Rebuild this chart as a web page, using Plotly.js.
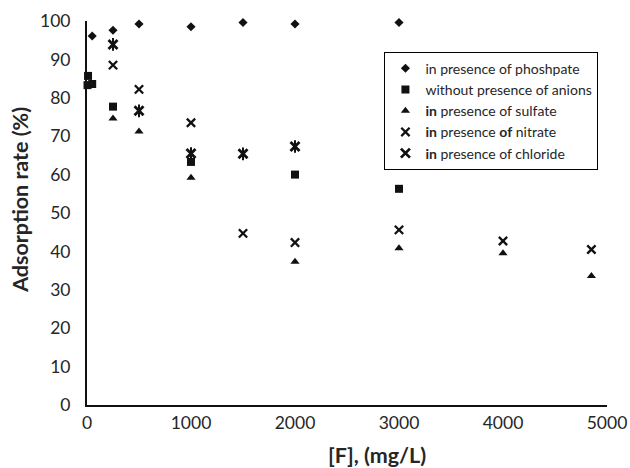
<!DOCTYPE html>
<html>
<head>
<meta charset="utf-8">
<script src="https://cdn.plot.ly/plotly-3.0.1.min.js"></script>
<style>html,body{margin:0;padding:0;background:#fff;}#chart{width:630px;height:468px;}</style>
</head>
<body>
<div id="chart"></div>
<script>
// Data
var seriesNames = ["in presence of phoshpate", "without presence of anions", "<b>in</b> presence of sulfate", "<b>in</b> presence <b>of</b> nitrate", "<b>in</b> presence of chloride"];

var phosX = [50, 250, 500, 1000, 1500, 2000, 3000];
var phosY = [96.1, 97.6, 99.2, 98.5, 99.6, 99.2, 99.6];

var anionX = [10, 5, 50, 250, 1000, 2000, 3000];
var anionY = [85.7, 83.3, 83.6, 77.7, 63.3, 60.0, 56.3];

var sulfX = [250, 500, 1000, 2000, 3000, 4000, 4850];
var sulfY = [74.6, 71.2, 59.2, 37.3, 40.8, 39.5, 33.6];

var nitrX = [250, 500, 1000, 1500, 2000, 3000, 4000, 4850];
var nitrY = [88.5, 82.2, 73.5, 44.7, 42.3, 45.6, 42.7, 40.5];

var chlorX = [250, 500, 1000, 1500, 2000];
var chlorY = [93.9, 76.6, 65.5, 65.4, 67.3];

var xTickVals = [0, 1000, 2000, 3000, 4000, 5000];
var yTickVals = [0, 10, 20, 30, 40, 50, 60, 70, 80, 90, 100];

var xTitle = "[F], (mg/L)";
var yTitle = "Adsorption rate (%)";

var FONT = "Lato, 'Liberation Sans', sans-serif";
var INK = "#111111";
var TXT = "#262626";

function pts(name, xs, ys, marker, showlegend) {
  return {
    type: "scatter", mode: "markers", name: name, x: xs, y: ys,
    marker: marker, cliponaxis: false, showlegend: showlegend !== false,
    hoverinfo: "x+y"
  };
}

var traces = [
  pts(seriesNames[0], phosX, phosY, {symbol: "diamond", size: 7, color: INK}),
  pts(seriesNames[1], anionX, anionY, {symbol: "square", size: 8, color: INK}),
  pts(seriesNames[2], sulfX, sulfY, {symbol: "triangle-up", size: 8, color: INK}),
  pts(seriesNames[3], nitrX, nitrY, {symbol: "x-thin-open", size: 8.3, color: INK, line: {color: INK, width: 2.3}}),
  pts(seriesNames[4], chlorX, chlorY, {symbol: "x-thin-open", size: 9, color: INK, line: {color: INK, width: 2.8}}),
  pts(seriesNames[4], chlorX, chlorY, {symbol: "line-ns-open", size: 9, color: INK, line: {color: INK, width: 2}}, false)
];

var layout = {
  width: 630, height: 468,
  margin: {l: 87, r: 23, t: 21, b: 63},
  paper_bgcolor: "#ffffff", plot_bgcolor: "#ffffff",
  font: {family: FONT, color: TXT, size: 17},
  showlegend: true,
  legend: {
    x: 0.572, y: 0.92, xanchor: "left", yanchor: "top",
    bgcolor: "#ffffff", bordercolor: "#000000", borderwidth: 1,
    font: {family: FONT, size: 14, color: TXT},
    itemwidth: 30, traceorder: "normal"
  },
  xaxis: {
    range: [0, 5000], tickvals: xTickVals, ticks: "", showgrid: false, zeroline: false,
    showline: true, linecolor: INK, linewidth: 2,
    tickfont: {family: FONT, size: 17.5, color: TXT},
    ticklabelstandoff: 1, fixedrange: true
  },
  yaxis: {
    range: [0, 100], tickvals: yTickVals, ticks: "", showgrid: false, zeroline: false,
    showline: true, linecolor: INK, linewidth: 2,
    tickfont: {family: FONT, size: 17.5, color: TXT},
    ticklabelstandoff: 11, fixedrange: true
  },
  annotations: [
    {text: "<b>" + xTitle + "</b>", xref: "paper", yref: "paper", x: 0.558, y: -0.130,
     xanchor: "center", yanchor: "middle", showarrow: false,
     font: {family: FONT, size: 21.5, color: TXT}},
    {text: "<b>" + yTitle + "</b>", xref: "paper", yref: "paper", x: -0.129, y: 0.534,
     xanchor: "center", yanchor: "middle", showarrow: false, textangle: -90,
     font: {family: FONT, size: 21.5, color: TXT}}
  ]
};

Plotly.newPlot("chart", traces, layout, {displayModeBar: false, staticPlot: true});
</script>
</body>
</html>
